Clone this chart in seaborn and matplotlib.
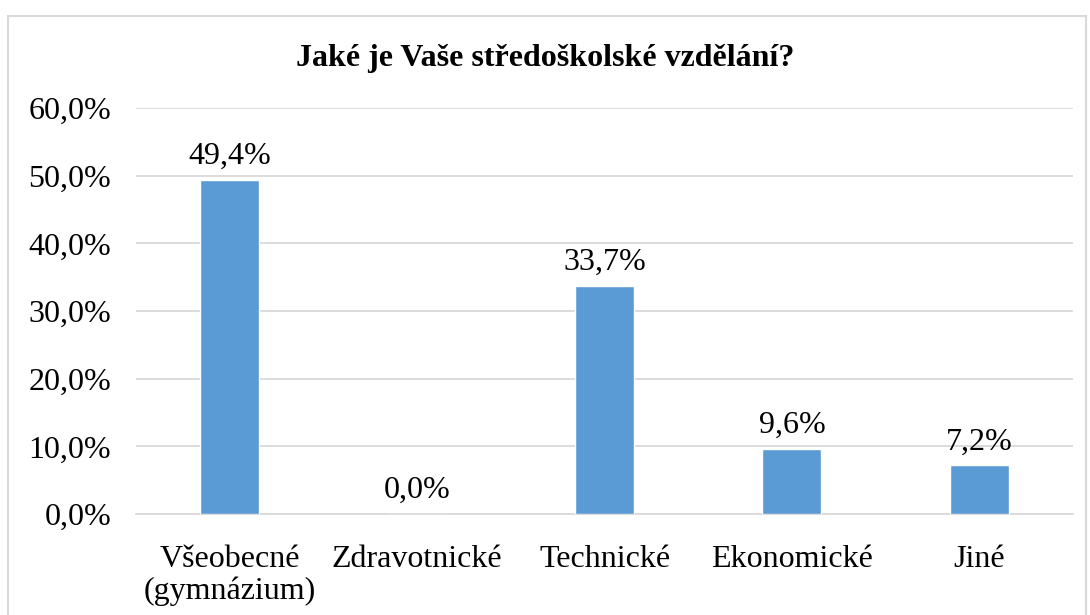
import matplotlib
matplotlib.use("Agg")
import matplotlib.pyplot as plt
import seaborn as sns
import pandas as pd
from matplotlib.patches import Rectangle

categories = ["Všeobecné\n(gymnázium)", "Zdravotnické", "Technické",
              "Ekonomické", "Jiné"]
values = [49.4, 0.0, 33.7, 9.6, 7.2]
yticks = [0, 10, 20, 30, 40, 50, 60]
title = "Jaké je Vaše středoškolské vzdělání?"

sns.set_theme(style="white")
plt.rcParams['font.family'] = ['Liberation Serif', 'DejaVu Serif']
plt.rcParams['text.color'] = 'black'
plt.rcParams['xtick.color'] = 'black'
plt.rcParams['ytick.color'] = 'black'

df = pd.DataFrame({"kategorie": categories, "podil": values})

fig = plt.figure(figsize=(10.9, 6.15), dpi=100)
ax = fig.add_axes([0.1248, 0.1642, 0.8596, 0.6602])

sns.barplot(data=df, x="kategorie", y="podil", color="#5B9BD5",
            width=0.315, saturation=1, ax=ax, zorder=3)

ax.set_ylim(0, 60)
ax.set_yticks(yticks)
ax.set_yticklabels(["{:.1f}%".format(t).replace(".", ",") for t in yticks],
                   fontsize=23)
ax.tick_params(axis="x", labelsize=23, length=0, pad=22)
ax.tick_params(axis="y", length=0, pad=18)
for lbl in ax.get_xticklabels():
    lbl.set_linespacing(1.15)
ax.set_xlabel("")
ax.set_ylabel("")
ax.yaxis.grid(True, color="#d9d9d9", linewidth=1.3, zorder=0)
for side in ["top", "right", "left"]:
    ax.spines[side].set_visible(False)
ax.spines["bottom"].set_color("#d9d9d9")
ax.spines["bottom"].set_linewidth(1.3)

for i, v in enumerate(values):
    ax.text(i, v + 1.3, "{:.1f}%".format(v).replace(".", ","),
            ha="center", va="bottom", fontsize=23)

fig.text(0.5, 0.905, title, ha="center", va="center", fontsize=23,
         fontweight="bold")

fig.patches.append(Rectangle((8 / 1090, -0.05), 1078 / 1090, 1 - 16 / 615 + 0.05,
                             transform=fig.transFigure, fill=False,
                             edgecolor="#d9d9d9", linewidth=1.5))

fig.savefig("out.png", dpi=100)
